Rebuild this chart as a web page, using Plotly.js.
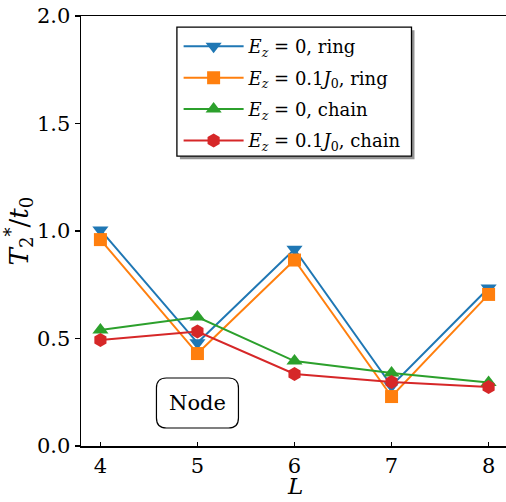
<!DOCTYPE html>
<html>
<head>
<meta charset="utf-8">
<script src="https://cdn.plot.ly/plotly-3.0.1.min.js"></script>
<style>
  html, body { margin: 0; padding: 0; overflow: hidden; background: #fff; }
  #chart { width: 509px; height: 502px; }
</style>
</head>
<body>
<div id="chart"></div>
<script>
// System size L and dephasing time T2*/t0 for each configuration
const sizes = [4, 5, 6, 7, 8];
const ringEz0 = [1.005, 0.48, 0.915, 0.28, 0.735];
const ringEz01 = [0.96, 0.43, 0.865, 0.23, 0.705];
const chainEz0 = [0.54, 0.60, 0.395, 0.34, 0.295];
const chainEz01 = [0.493, 0.532, 0.335, 0.298, 0.274];

const seriesNames = [
  '<i>E<sub>z</sub></i> = 0, ring',
  '<i>E<sub>z</sub></i> = 0.1<i>J</i><sub>0</sub>, ring',
  '<i>E<sub>z</sub></i> = 0, chain',
  '<i>E<sub>z</sub></i> = 0.1<i>J</i><sub>0</sub>, chain'
];
const yTickVals = [0, 0.5, 1.0, 1.5, 2.0];
const yTickText = ['0.0', '0.5', '1.0', '1.5', '2.0'];
const xTitle = '<i>L</i>';
const boxLabel = 'Node';

const FONT = 'DejaVu Serif';
const colors = ['#1f77b4', '#ff7f0e', '#2ca02c', '#d62728'];
const symbols = ['triangle-down', 'square', 'triangle-up', 'hexagon'];
const msizes = [14, 13, 14, 14];
const values = [ringEz0, ringEz01, chainEz0, chainEz01];

const traces = values.map((v, i) => ({
  x: sizes,
  y: v,
  name: seriesNames[i],
  legendgroup: 'g' + i,
  type: 'scatter',
  mode: 'lines+markers',
  line: { color: colors[i], width: 2 },
  marker: { color: colors[i], symbol: symbols[i], size: msizes[i] }
}));

// legend frame with offset drop shadow (paper coordinates)
const lx0 = 0.2246, lx1 = 0.774, ly0 = 0.674, ly1 = 0.974;
const dx = 3 / 427.5, dy = 3 / 430;

const layout = {
  width: 509,
  height: 502,
  margin: { l: 81, r: 0.5, t: 16, b: 56, pad: 0 },
  paper_bgcolor: '#fff',
  plot_bgcolor: '#fff',
  font: { family: FONT, color: '#000', size: 21 },
  showlegend: true,
  legend: {
    x: lx0 + 0.004, y: ly1 - 0.002, xanchor: 'left', yanchor: 'top',
    bgcolor: 'rgba(0,0,0,0)', borderwidth: 0,
    font: { family: FONT, size: 18, color: '#000' },
    itemwidth: 60, tracegroupgap: 5
  },
  xaxis: {
    range: [3.8, 8.2],
    tickvals: sizes,
    ticks: 'inside', ticklen: 4, tickwidth: 1.5, tickcolor: '#000',
    showline: true, linecolor: '#000', linewidth: 1.5, mirror: true,
    showgrid: false, zeroline: false,
    tickfont: { family: FONT, size: 21 }
  },
  yaxis: {
    range: [0, 2.0],
    tickvals: yTickVals, ticktext: yTickText,
    ticks: 'outside', ticklen: 5, tickwidth: 1.5, tickcolor: '#000',
    showline: true, linecolor: '#000', linewidth: 1.5, mirror: true,
    showgrid: false, zeroline: false,
    tickfont: { family: FONT, size: 21 },
    title: { text: '<i>T</i><sub>2</sub><sup>*</sup>/<i>t</i><sub>0</sub>', font: { family: FONT, size: 26 }, standoff: 6 }
  },
  shapes: [
    { type: 'rect', xref: 'paper', yref: 'paper', layer: 'above',
      x0: lx0 + dx, x1: lx1 + dx, y0: ly0 - dy, y1: ly1 - dy,
      fillcolor: 'rgba(60,60,60,0.55)', line: { width: 0 } },
    { type: 'rect', xref: 'paper', yref: 'paper', layer: 'above',
      x0: lx0, x1: lx1, y0: ly0, y1: ly1,
      fillcolor: '#fff', line: { color: '#000', width: 1.3 } },
    { type: 'path', xref: 'x', yref: 'y', layer: 'above',
      xsizemode: 'pixel', ysizemode: 'pixel', xanchor: 5, yanchor: 0.2,
      path: 'M -31,-25 L 31,-25 Q 41,-25 41,-15 L 41,15 Q 41,25 31,25 L -31,25 Q -41,25 -41,15 L -41,-15 Q -41,-25 -31,-25 Z',
      fillcolor: '#fff', line: { color: '#000', width: 1.2 } }
  ],
  annotations: [
    { x: 5, y: 0.2, xref: 'x', yref: 'y', text: boxLabel, showarrow: false,
      font: { family: FONT, size: 21, color: '#000' } },
    // x-axis title, set just below the tick labels
    { x: 6, y: 0, xref: 'x', yref: 'paper', xanchor: 'center', yanchor: 'bottom',
      yshift: -55, text: xTitle, showarrow: false,
      font: { family: FONT, size: 23, color: '#000' } }
  ]
};

Plotly.newPlot('chart', traces, layout, { displayModeBar: false, staticPlot: true });
</script>
</body>
</html>
